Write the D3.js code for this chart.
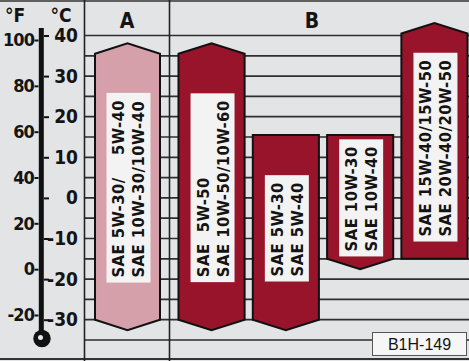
<!DOCTYPE html>
<html><head><meta charset="utf-8">
<script src="https://cdn.jsdelivr.net/npm/d3@7"></script>
<style>
html,body{margin:0;padding:0;background:#e3e4e6;}
svg{display:block;}
text{font-family:"DejaVu Sans Condensed","DejaVu Sans",sans-serif;font-stretch:condensed;font-weight:bold;fill:#141414;}
</style></head><body>
<svg id="c" width="469" height="361"></svg>
<script>
// ---- data ----
const groups = ["A", "B"];
const bars = ["A1", "B1", "B2", "B3", "B4"];
const barGroup = ["A", "B", "B", "B", "B"];
const lows = [-30, -30, -30, -15, -15];
const highs = [35.5, 35.5, 15.5, 15.5, 40.5];
const lowOpen = [true, true, true, true, false];
const highOpen = [true, true, false, false, true];
const line1 = ["SAE 5W-30/    5W-40", "SAE  5W-50", "SAE 5W-30", "SAE 10W-30", "SAE 15W-40/15W-50"];
const line2 = ["SAE 10W-30/10W-40", "SAE 10W-50/10W-60", "SAE 5W-40", "SAE 10W-40", "SAE 20W-40/20W-50"];
const celsiusTicks = [40, 30, 20, 10, 0, -10, -20, -30];
const fahrenheitTicks = [100, 80, 60, 40, 20, 0, -20];
const gridTicks = [40, 35, 30, 25, 20, 15, 10, 5, 0, -5, -10, -15, -20, -25, -30, -35];
const codeLabel = "B1H-149";

// ---- layout ----
const W = 469, H = 361;
const svg = d3.select("#c");
const y = d3.scaleLinear().domain([40, -35]).range([35.5, 340]);
const yF = d3.scaleLinear().domain([100, -20]).range([40, 315]);
const xA = d3.scaleBand().domain(bars.filter((b, i) => barGroup[i] === "A")).range([85, 170]).paddingOuter(0.154);
const xB = d3.scaleBand().domain(bars.filter((b, i) => barGroup[i] === "B")).range([174.4, 471.6]).paddingInner(0.11).paddingOuter(0.055);
const xOf = (b, i) => barGroup[i] === "A" ? xA(b) : xB(b);
const bwOf = (i) => barGroup[i] === "A" ? xA.bandwidth() : xB.bandwidth();
const tip = 10.5;

// grid lines
svg.append("g").selectAll("line").data(gridTicks).join("line")
  .attr("x1", 84.5).attr("x2", W)
  .attr("y1", d => y(d)).attr("y2", d => y(d))
  .attr("stroke", "#2e2e2e").attr("stroke-width", 1.7);

// frame lines
svg.append("line").attr("x1", 0).attr("x2", W).attr("y1", 1).attr("y2", 1).attr("stroke", "#333").attr("stroke-width", 1.6);
svg.append("line").attr("x1", 0).attr("x2", W).attr("y1", 359).attr("y2", 359).attr("stroke", "#333").attr("stroke-width", 1.8);
[84.5, 169.5].forEach(xv => svg.append("line").attr("x1", xv).attr("x2", xv).attr("y1", 0).attr("y2", H).attr("stroke", "#222").attr("stroke-width", 1.6));

// group headers
const groupX = {A: 127, B: 312};
svg.append("g").selectAll("text").data(groups).join("text")
  .attr("x", d => groupX[d]).attr("y", 20).attr("dy", "0.36em")
  .attr("text-anchor", "middle").style("font-size", "21px").text(d => d);

// bars
const barPath = (i) => {
  const x0 = xOf(bars[i], i), x1 = x0 + bwOf(i), xm = (x0 + x1) / 2;
  const yt = y(highs[i]), yb = y(lows[i]);
  const p = d3.path();
  p.moveTo(x0, yt);
  if (highOpen[i]) p.lineTo(xm, yt - tip);
  p.lineTo(x1, yt);
  p.lineTo(x1, yb);
  if (lowOpen[i]) p.lineTo(xm, yb + tip);
  p.lineTo(x0, yb);
  p.closePath();
  return p.toString();
};
svg.append("g").selectAll("path").data(bars).join("path")
  .attr("d", (d, i) => barPath(i))
  .attr("fill", (d, i) => barGroup[i] === "A" ? "#d6a0aa" : "#98142a")
  .attr("stroke", "#111").attr("stroke-width", 2).attr("stroke-linejoin", "miter");

// labels in bars
bars.forEach((b, i) => {
  const cx = xOf(b, i) + bwOf(i) / 2 + 1;
  const cy = (y(highs[i]) + y(lows[i])) / 2 + 2;
  const g = svg.append("g");
  const rect = g.append("rect");
  const texts = [line1[i], line2[i]].map((s, k) => g.append("text")
      .attr("xml:space", "preserve").style("white-space", "pre")
      .style("font-size", "16.5px").style("letter-spacing", "0.45px")
      .attr("dy", "0.36em").text(s));
  const L = d3.max(texts, t => t.node().getComputedTextLength());
  const start = cy + L / 2;
  texts.forEach((t, k) => t.attr("transform", `translate(${cx + (k === 0 ? -10 : 10)},${start}) rotate(-90)`));
  rect.attr("x", cx - 22).attr("width", 44)
    .attr("y", cy - L / 2 - 7).attr("height", L + 12)
    .attr("fill", "#f3f3f3");
});

// thermometer
svg.append("rect").attr("x", 38.8).attr("y", 28).attr("width", 5).attr("height", 306).attr("fill", "#111");
svg.append("circle").attr("cx", 42).attr("cy", 338.5).attr("r", 8.7).attr("fill", "#111");
svg.append("circle").attr("cx", 40.5).attr("cy", 337.5).attr("r", 2.5).attr("fill", "#e8e8e8");

// axes
const fmt = d => String(d);
const axF = svg.append("g").attr("transform", "translate(38.5,0)")
  .call(d3.axisLeft(yF).tickValues(fahrenheitTicks).tickSize(4).tickPadding(0.5).tickFormat(fmt));
const axC = svg.append("g").attr("transform", "translate(44,0)")
  .call(d3.axisRight(y).tickValues(celsiusTicks).tickSize(5).tickFormat(fmt));
[axF, axC].forEach(ax => {
  ax.select(".domain").remove();
  ax.selectAll(".tick line").attr("stroke", "#111").attr("stroke-width", 2);
  ax.selectAll(".tick text").attr("fill", "#141414")
    .style("font-family", '"DejaVu Sans Condensed","DejaVu Sans",sans-serif')
    .style("font-weight", "bold").style("font-size", "19px");
});
axF.selectAll(".tick text").style("font-size", "18px").style("letter-spacing", "-0.9px");
axC.selectAll(".tick text").attr("x", 34).attr("text-anchor", "end");

// unit labels
svg.append("text").attr("x", 15).attr("y", 15).attr("dy", "0.36em").attr("text-anchor", "middle").style("font-size", "19px").text("°F");
svg.append("text").attr("x", 61).attr("y", 15).attr("dy", "0.36em").attr("text-anchor", "middle").style("font-size", "19px").text("°C");

// code label
svg.append("rect").attr("x", 372.5).attr("y", 332.5).attr("width", 94).attr("height", 23)
  .attr("fill", "#f6f6f6").attr("stroke", "#555").attr("stroke-width", 1);
svg.append("text").attr("x", 419.5).attr("y", 344).attr("dy", "0.36em").attr("text-anchor", "middle")
  .style("font-family", '"Liberation Sans",Arial,sans-serif').style("font-weight", "normal")
  .style("font-size", "16px").attr("fill", "#222").text(codeLabel);
</script>
</body></html>
